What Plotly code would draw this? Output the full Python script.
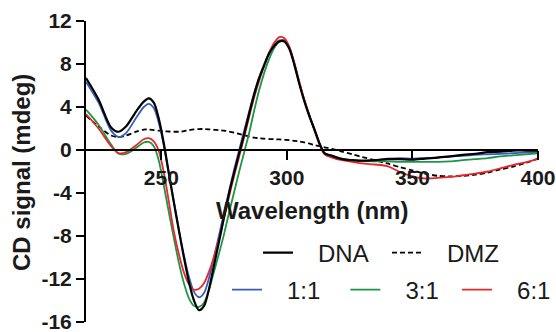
import plotly.graph_objects as go

wavelength = [220, 225, 230, 233, 236, 240, 243, 245, 247, 249, 251, 253, 255, 257, 259, 261, 263, 265,
              267, 269, 271, 273, 275, 277, 279, 281, 283, 285, 287, 289, 291, 293, 295, 297, 299, 301,
              303, 305, 307, 309, 311, 313, 315, 318, 322, 326, 330, 335, 340, 345, 350, 355, 360, 365,
              370, 375, 380, 385, 390, 395, 400]

dna = [6.7, 4.7, 2.1, 1.7, 2.2, 3.6, 4.5, 4.8, 4.4, 2.9, 0.6, -2.2, -4.9, -7.5, -10.0, -12.3, -14.0, -14.9,
       -14.5, -12.9, -10.7, -8.5, -6.2, -4.0, -2.1, -0.3, 1.5, 3.4, 5.2, 6.7, 7.9, 9.0, 9.7, 10.1, 10.1, 9.4,
       7.9, 6.1, 4.5, 3.1, 1.9, 0.6, -0.3, -0.55, -0.85, -0.95, -1.0, -0.95, -0.85, -0.85, -0.9, -0.8, -0.7, -0.6,
       -0.45, -0.35, -0.2, -0.15, -0.05, -0.05, -0.05]

dmz = [3.2, 2.2, 1.35, 1.2, 1.35, 1.7, 1.9, 1.9, 1.85, 1.8, 1.75, 1.72, 1.7, 1.7, 1.75, 1.85, 1.92, 1.95,
       1.95, 1.92, 1.88, 1.85, 1.8, 1.72, 1.62, 1.5, 1.38, 1.25, 1.15, 1.1, 1.05, 1.02, 1.0, 0.98, 0.95, 0.92,
       0.85, 0.78, 0.7, 0.6, 0.45, 0.35, 0.25, 0.1, -0.15, -0.4, -0.65, -0.95, -1.25, -1.6, -1.9, -2.2, -2.4, -2.45,
       -2.4, -2.3, -2.1, -1.8, -1.55, -1.2, -0.8]

ratio_1_1 = [6.35, 4.4, 1.8, 1.2, 1.6, 3.0, 4.0, 4.3, 3.9, 2.5, 0.4, -2.2, -4.8, -7.4, -9.8, -11.8, -13.2, -13.7,
             -13.3, -11.9, -9.9, -7.9, -5.8, -3.8, -1.8, 0.0, 1.8, 3.6, 5.3, 6.8, 8.0, 9.1, 9.8, 10.2, 10.2, 9.5,
             8.0, 6.2, 4.6, 3.2, 1.9, 0.6, -0.3, -0.55, -0.85, -0.95, -1.0, -0.95, -0.8, -0.75, -0.8, -0.75, -0.7, -0.6,
             -0.55, -0.45, -0.4, -0.35, -0.3, -0.25, -0.2]

ratio_3_1 = [3.75, 2.35, 0.5, -0.35, -0.35, 0.2, 0.7, 0.75, 0.35, -1.0, -3.3, -5.8, -8.2, -10.5, -12.4, -13.8, -14.5, -14.6,
             -14.2, -13.0, -11.3, -9.6, -7.8, -5.8, -3.9, -2.0, -0.2, 1.6, 3.7, 5.6, 7.2, 8.5, 9.5, 10.1, 10.2, 9.5,
             8.0, 6.2, 4.6, 3.2, 1.9, 0.6, -0.3, -0.55, -0.8, -0.95, -1.0, -1.05, -1.05, -1.1, -1.1, -1.1, -1.1, -1.05,
             -0.95, -0.85, -0.75, -0.6, -0.5, -0.4, -0.3]

ratio_6_1 = [3.35, 2.0, 0.35, -0.3, -0.2, 0.45, 1.0, 1.1, 0.8, -0.1, -2.1, -4.8, -7.6, -9.7, -11.4, -12.5, -13.0, -12.9,
             -12.4, -11.3, -9.9, -8.3, -6.3, -4.3, -2.4, -0.6, 1.2, 3.1, 4.9, 6.5, 7.9, 9.1, 10.0, 10.5, 10.4, 9.6,
             8.1, 6.3, 4.6, 3.2, 1.8, 0.5, -0.4, -0.7, -0.95, -1.1, -1.25, -1.35, -1.5, -2.05, -2.45, -2.65, -2.6, -2.5,
             -2.35, -2.2, -2.0, -1.7, -1.4, -1.15, -0.85]

names = ["DNA", "DMZ", "1:1", "3:1", "6:1"]
series = [dna, dmz, ratio_1_1, ratio_3_1, ratio_6_1]
colors = ["#000000", "#000000", "#3a5cc0", "#1a9646", "#e8262b"]
dashes = ["solid", "5px,3px", "solid", "solid", "solid"]
widths = [2.2, 1.8, 1.8, 1.8, 1.8]
legends = ["legend", "legend", "legend2", "legend2", "legend2"]

y_ticks = [-16, -12, -8, -4, 0, 4, 8, 12]
y_ticktext = ["-16", "-12", "-8", "-4", "0", "4", "8", "12"]
x_ticks = [250, 300, 350, 400]

FONT = "Liberation Sans, Arial, sans-serif"
LEAD = "\u00a0\u00a0\u00a0"
TRAIL = {"DNA": "\u00a0\u00a0", "DMZ": "", "1:1": "\u00a0\u00a0\u00a0", "3:1": "\u00a0\u00a0", "6:1": ""}

# plot area: top 21 px, bottom 322 px (height 301), left 86, right 538
TOP, BOT, H = 21, 322, 301


def py(px):
    return (BOT - px) / H


fig = go.Figure()
order = [1, 2, 3, 4, 0]
for i in order:
    fig.add_trace(go.Scatter(
        x=wavelength, y=series[i], mode="lines", name=LEAD + names[i] + TRAIL[names[i]],
        line=dict(color=colors[i], width=widths[i], dash=dashes[i], shape="spline", smoothing=0.8),
        legend=legends[i], legendrank=i + 1,
    ))

fig.update_layout(
    width=556, height=332,
    margin=dict(l=86, r=18, t=TOP, b=332 - BOT, autoexpand=False),
    plot_bgcolor="white", paper_bgcolor="white",
    font=dict(family=FONT, color="#1a1a1a"),
    xaxis=dict(range=[220, 400], tickvals=x_ticks, ticks="outside", ticklen=9, tickwidth=2,
               tickcolor="black", showline=True, linecolor="black", linewidth=2,
               showgrid=False, zeroline=False, anchor="free", position=16 / 28,
               ticklabeloverflow="allow",
               tickfont=dict(size=21, family=FONT, color="#1a1a1a", weight="bold")),
    yaxis=dict(range=[-16, 12], tickvals=y_ticks, ticktext=y_ticktext, ticks="outside", ticklen=8,
               tickwidth=2, tickcolor="black", showline=True, linecolor="black", linewidth=2,
               showgrid=False, zeroline=False, ticklabeloverflow="allow",
               tickfont=dict(size=21, family=FONT, color="#1a1a1a", weight="bold")),
    legend=dict(orientation="h", x=(258 - 86) / 452, xanchor="left", y=py(253), yanchor="middle",
                bgcolor="rgba(0,0,0,0)", font=dict(size=24, family=FONT, color="#1a1a1a"),
                traceorder="normal"),
    legend2=dict(orientation="h", x=(227 - 86) / 452, xanchor="left", y=py(290), yanchor="middle",
                 bgcolor="rgba(0,0,0,0)", font=dict(size=24, family=FONT, color="#1a1a1a"),
                 traceorder="normal"),
    annotations=[
        dict(text="<b>Wavelength (nm)</b>", x=0.5, y=py(210), xref="paper", yref="paper",
             xanchor="center", yanchor="middle", showarrow=False,
             font=dict(size=24, family=FONT, color="#1a1a1a")),
        dict(text="<b>CD signal (mdeg)</b>", x=(21 - 86) / 452, y=py(173), xref="paper", yref="paper",
             xanchor="center", yanchor="middle", showarrow=False, textangle=-90,
             font=dict(size=24, family=FONT, color="#1a1a1a")),
    ],
)

fig.write_html("out.html")
